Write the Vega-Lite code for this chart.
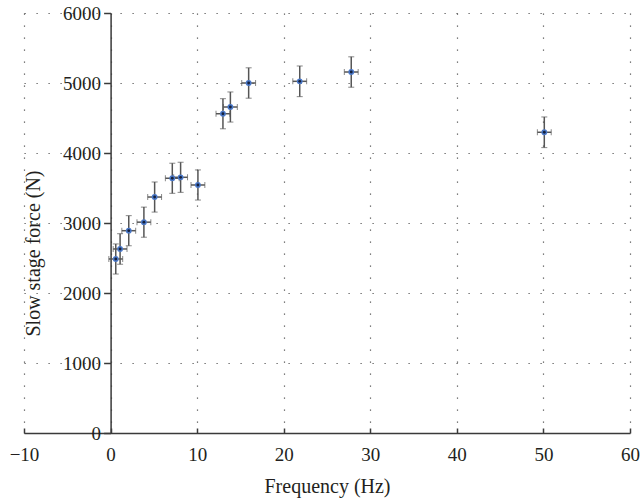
{
  "$schema": "https://vega.github.io/schema/vega-lite/v6.json",
  "width": 606,
  "height": 420,
  "autosize": "none",
  "padding": {"left": 24, "top": 13, "right": 10, "bottom": 69},
  "background": "white",
  "config": {
    "view": {"stroke": null},
    "font": "Liberation Serif",
    "axis": {
      "labelFont": "Liberation Serif",
      "titleFont": "Liberation Serif",
      "labelFontSize": 19,
      "titleFontSize": 20,
      "titleFontWeight": "normal",
      "labelColor": "#231f20",
      "titleColor": "#231f20",
      "domainColor": "#3a3a3a",
      "tickColor": "#3a3a3a",
      "domainWidth": 1.5,
      "tickWidth": 1.5,
      "gridColor": "#555555",
      "gridDash": [1.2, 10.8],
      "gridWidth": 1.2,
      "gridOpacity": 1,
      "labelFlush": false,
      "labelOverlap": false
    }
  },
  "data": {
    "values": [
      {"f": 0.6, "F": 2486, "fe": 0.8, "Fe": 215},
      {"f": 1.1, "F": 2629, "fe": 0.8, "Fe": 218},
      {"f": 2.1, "F": 2890, "fe": 0.8, "Fe": 215},
      {"f": 3.85, "F": 3012, "fe": 0.8, "Fe": 215},
      {"f": 5.09, "F": 3371, "fe": 0.8, "Fe": 215},
      {"f": 7.13, "F": 3639, "fe": 0.8, "Fe": 215},
      {"f": 8.09, "F": 3653, "fe": 0.8, "Fe": 215},
      {"f": 10.09, "F": 3543, "fe": 0.8, "Fe": 215},
      {"f": 12.98, "F": 4561, "fe": 0.8, "Fe": 215},
      {"f": 13.84, "F": 4657, "fe": 0.8, "Fe": 215},
      {"f": 15.95, "F": 5000, "fe": 0.8, "Fe": 217},
      {"f": 21.85, "F": 5024, "fe": 0.8, "Fe": 219},
      {"f": 27.8, "F": 5157, "fe": 0.8, "Fe": 217},
      {"f": 50.1, "F": 4296, "fe": 0.8, "Fe": 219}
    ]
  },
  "layer": [
    {
      "mark": {"type": "errorbar", "ticks": {"size": 6, "color": "#555555", "strokeWidth": 1.5}, "rule": {"color": "#555555", "strokeWidth": 1.5}},
      "encoding": {
        "x": {
          "field": "f", "type": "quantitative", "title": "Frequency (Hz)",
          "scale": {"domain": [-10, 60], "nice": false, "zero": false},
          "axis": {
            "title": "Frequency (Hz)",
            "values": [-10, 0, 10, 20, 30, 40, 50, 60],
            "format": "d",
            "labelExpr": "replace(datum.label, '-', '\u2212')",
            "grid": true,
            "tickSize": -5,
            "labelPadding": 17,
            "titlePadding": 12
          }
        },
        "y": {
          "field": "F", "type": "quantitative", "title": "Slow stage force (N)",
          "scale": {"domain": [0, 6000], "nice": false},
          "axis": {
            "title": "Slow stage force (N)",
            "values": [0, 1000, 2000, 3000, 4000, 5000, 6000],
            "format": "d",
            "grid": true,
            "offset": -86.6,
            "tickSize": 7,
            "labelPadding": 3,
            "titleX": -67,
            "titleY": 240
          }
        },
        "yError": {"field": "Fe"}
      }
    },
    {
      "mark": {"type": "errorbar", "orient": "horizontal", "ticks": {"size": 6, "color": "#555555", "strokeWidth": 1.5}, "rule": {"color": "#555555", "strokeWidth": 1.5}},
      "encoding": {
        "x": {"field": "f", "type": "quantitative", "title": "Frequency (Hz)"},
        "xError": {"field": "fe"},
        "y": {"field": "F", "type": "quantitative", "title": "Slow stage force (N)"}
      }
    },
    {
      "mark": {"type": "point", "filled": true, "shape": "circle", "size": 34, "color": "#4a78c8", "opacity": 1},
      "encoding": {
        "x": {"field": "f", "type": "quantitative", "title": "Frequency (Hz)"},
        "y": {"field": "F", "type": "quantitative", "title": "Slow stage force (N)"}
      }
    },
    {
      "mark": {"type": "point", "filled": true, "shape": "circle", "size": 8, "color": "#14213d", "opacity": 1},
      "encoding": {
        "x": {"field": "f", "type": "quantitative", "title": "Frequency (Hz)"},
        "y": {"field": "F", "type": "quantitative", "title": "Slow stage force (N)"}
      }
    }
  ]
}
